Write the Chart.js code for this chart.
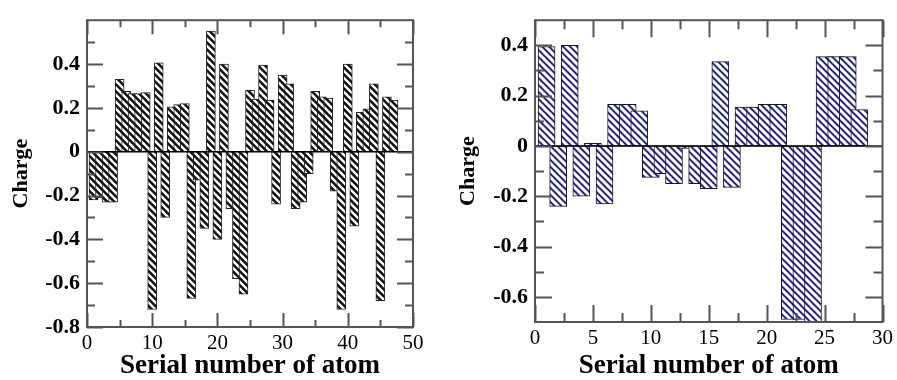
<!DOCTYPE html>
<html><head><meta charset="utf-8">
<script src="https://cdn.jsdelivr.net/npm/chart.js@4"></script>
<style>
html,body{margin:0;padding:0;background:#fff;}
#wrap{position:relative;width:897px;height:380px;overflow:hidden;background:#fff}
#c1{position:absolute;left:0;top:0}
#c2{position:absolute;left:450px;top:0}
</style></head><body>
<div id="wrap"><canvas id="c1" width="450" height="380"></canvas><canvas id="c2" width="447" height="380"></canvas></div>
<script>
// ---- data: left panel ----
const leftAtoms = [1,2,3,4,5,6,7,8,9,10,11,12,13,14,15,16,17,18,19,20,21,22,23,24,25,26,27,28,29,30,31,32,33,34,35,36,37,38,39,40,41,42,43,44,45,46,47];
const leftCharges = [-0.22,-0.21,-0.23,-0.23,0.33,0.275,0.265,0.265,0.27,-0.72,0.405,-0.30,0.205,0.215,0.22,-0.67,-0.13,-0.35,0.55,-0.40,0.40,-0.26,-0.58,-0.65,0.28,0.24,0.395,0.235,-0.24,0.35,0.31,-0.26,-0.23,-0.10,0.275,0.25,0.245,-0.18,-0.72,0.40,-0.34,0.18,0.195,0.31,-0.68,0.25,0.235];
const leftXTicks = [0,10,20,30,40,50];
const leftXMinor = [5,15,25,35,45];
const leftYTicks = [-0.8,-0.6,-0.4,-0.2,0,0.2,0.4];
const leftYMinor = [-0.7,-0.5,-0.3,-0.1,0.1,0.3,0.5];
// ---- data: right panel ----
const rightAtoms = [1,2,3,4,5,6,7,8,9,10,11,12,13,14,15,16,17,18,19,20,21,22,23,24,25,26,27,28];
const rightCharges = [0.395,-0.24,0.40,-0.20,0.01,-0.23,0.165,0.165,0.14,-0.125,-0.11,-0.15,-0.01,-0.15,-0.17,0.335,-0.165,0.155,0.155,0.165,0.165,-0.69,-0.69,-0.70,0.355,0.355,0.355,0.145];
const rightXTicks = [0,5,10,15,20,25,30];
const rightXMinor = [2.5,7.5,12.5,17.5,22.5,27.5];
const rightYTicks = [-0.6,-0.4,-0.2,0,0.2,0.4];
const rightYMinor = [-0.5,-0.3,-0.1,0.1,0.3];

const xTitle = 'Serial number of atom';
const yTitle = 'Charge';

function makePattern(bg, fg, size, lw) {
  const c = document.createElement('canvas');
  c.width = size; c.height = size;
  const g = c.getContext('2d');
  g.fillStyle = bg; g.fillRect(0, 0, size, size);
  g.strokeStyle = fg; g.lineWidth = lw;
  g.beginPath();
  for (let k = -1; k <= 1; k++) {
    g.moveTo(-1, k * size - 1);
    g.lineTo(size + 1, size + k * size + 1);
  }
  g.stroke();
  return g.createPattern(c, 'repeat');
}

const frameTicks = {
  id: 'frameTicks',
  afterDatasetsDraw(chart, args, o) {
    const {ctx, chartArea: a, scales: {x, y}} = chart;
    ctx.save();
    ctx.strokeStyle = '#000'; ctx.lineWidth = 1.5;
    const y0 = y.getPixelForValue(0);
    ctx.beginPath(); ctx.moveTo(a.left, y0); ctx.lineTo(a.right, y0); ctx.stroke();
    ctx.strokeStyle = o.color; ctx.lineWidth = o.lw;
    ctx.beginPath();
    const xt = (vals, len) => vals.forEach(v => {
      const p = Math.round(x.getPixelForValue(v)) + 0.5;
      ctx.moveTo(p, a.bottom); ctx.lineTo(p, a.bottom - len);
      ctx.moveTo(p, a.top); ctx.lineTo(p, a.top + len);
    });
    const yt = (vals, len) => vals.forEach(v => {
      const p = Math.round(y.getPixelForValue(v)) + 0.5;
      ctx.moveTo(a.left, p); ctx.lineTo(a.left + len, p);
      ctx.moveTo(a.right, p); ctx.lineTo(a.right - len, p);
    });
    xt(o.xMajor, o.xMajLen); xt(o.xMinor, o.xMinLen);
    yt(o.yMajor, o.yMajLen); yt(o.yMinor, o.yMinLen);
    ctx.stroke();
    ctx.strokeRect(a.left, a.top, a.width, a.height);
    ctx.restore();
  }
};

const fmt = v => String(Math.round(v * 10) / 10);

function makeChart(canvas, atoms, charges, cfg) {
  return new Chart(canvas, {
    type: 'bar',
    data: {
      datasets: [{
        data: atoms.map((a, i) => ({x: a, y: charges[i]})),
        backgroundColor: cfg.pattern,
        borderColor: cfg.barBorder,
        borderWidth: 1,
        borderSkipped: false,
        barThickness: cfg.barPx
      }]
    },
    options: {
      responsive: false, animation: false, devicePixelRatio: 1,
      layout: {padding: {left: 0, right: cfg.padR, top: cfg.padT, bottom: 0}},
      plugins: {
        legend: {display: false}, tooltip: {enabled: false},
        frameTicks: cfg.ticks
      },
      scales: {
        x: {
          type: 'linear', min: cfg.xMin, max: cfg.xMax, offset: false,
          grid: {display: false, drawTicks: false}, border: {display: false},
          afterBuildTicks: s => { s.ticks = cfg.xTicks.map(v => ({value: v})); },
          afterFit: s => { s.height = cfg.xH; },
          ticks: {autoSkip: false, maxRotation: 0, color: '#000', padding: cfg.xTickPad,
            font: {family: 'Liberation Serif', size: 21}, callback: fmt},
          title: {display: true, text: xTitle, color: '#000',
            font: {family: 'Liberation Serif', size: 27, weight: 'bold', lineHeight: 1},
            padding: {top: 0, bottom: cfg.xTitlePad}}
        },
        y: {
          type: 'linear', min: cfg.yMin, max: cfg.yMax,
          grid: {display: false, drawTicks: false}, border: {display: false},
          afterBuildTicks: s => { s.ticks = cfg.yTicks.map(v => ({value: v})); },
          afterFit: s => { s.width = cfg.yW; },
          ticks: {autoSkip: false, color: '#000', padding: cfg.yTickPad,
            font: {family: 'Liberation Serif', size: 22, weight: 'bold'}, callback: fmt},
          title: {display: true, text: yTitle, color: '#000',
            font: {family: 'Liberation Serif', size: 22, weight: 'bold', lineHeight: 1},
            padding: {top: cfg.yTitlePad, bottom: 0}}
        }
      }
    },
    plugins: [frameTicks]
  });
}

makeChart(document.getElementById('c1'), leftAtoms, leftCharges, {
  pattern: makePattern('#111', '#fff', 7, 2.4), barBorder: '#222', barPx: 9,
  padR: 37, padT: 12, xH: 53, yW: 87,
  xMin: 0, xMax: 50, yMin: -0.8, yMax: 0.6,
  xTicks: leftXTicks, yTicks: leftYTicks,
  xTickPad: 4, yTickPad: 7, xTitlePad: 0, yTitlePad: 10,
  ticks: {color: '#555', lw: 2, xMajor: leftXTicks, xMinor: leftXMinor, yMajor: leftYTicks, yMinor: leftYMinor,
    xMajLen: 14, xMinLen: 7, yMajLen: 16, yMinLen: 8}
});
makeChart(document.getElementById('c2'), rightAtoms, rightCharges, {
  pattern: makePattern('#26267f', '#fff', 7, 3), barBorder: '#151530', barPx: 17,
  padR: 14, padT: 13.5, xH: 58, yW: 85,
  xMin: 0, xMax: 30, yMin: -0.7, yMax: 0.5,
  xTicks: rightXTicks, yTicks: rightYTicks,
  xTickPad: 4, yTickPad: 7, xTitlePad: 0, yTitlePad: 7,
  ticks: {color: '#555', lw: 2, xMajor: rightXTicks, xMinor: rightXMinor, yMajor: rightYTicks, yMinor: rightYMinor,
    xMajLen: 17, xMinLen: 9, yMajLen: 17, yMinLen: 9}
});
</script>
</body></html>
